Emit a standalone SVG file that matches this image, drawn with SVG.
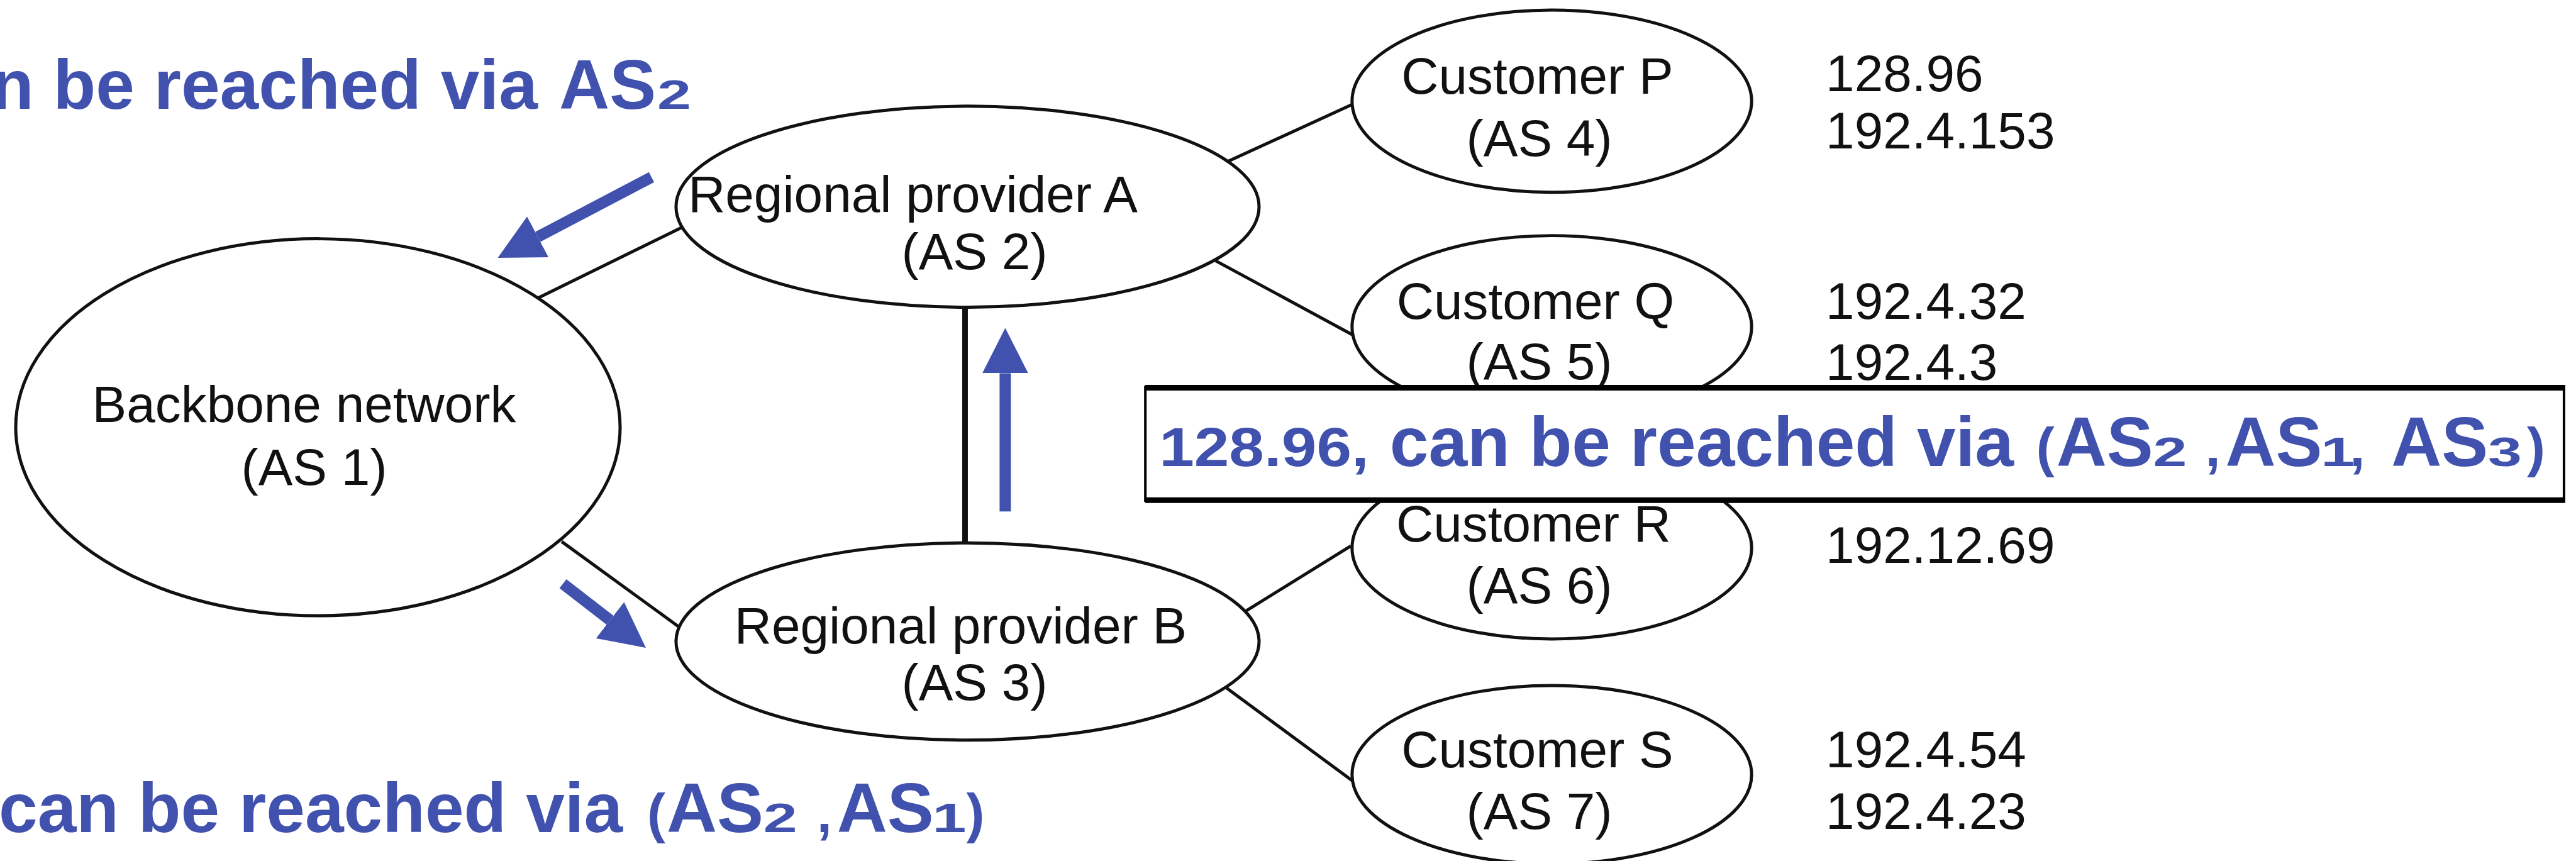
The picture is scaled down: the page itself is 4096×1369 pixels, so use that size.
<svg xmlns="http://www.w3.org/2000/svg" width="4096" height="1369" viewBox="0 0 4096 1369">
<defs>
<style>
.shape{fill:#fff;stroke:#111;stroke-width:5}
.lbl{font-family:"Liberation Sans",Arial,Helvetica,sans-serif;font-size:82px;fill:#111;text-anchor:middle}
.ip{font-family:"Liberation Sans",Arial,Helvetica,sans-serif;font-size:82px;fill:#111}
.conn{stroke:#111;stroke-width:5;fill:none}
.blue{font-family:"Liberation Sans",Arial,Helvetica,sans-serif;font-weight:bold;fill:#4051ae}
.big{font-size:111px}
.mid{font-size:87px}
.sub{font-size:64px}
.arrow{stroke:#4051ae;stroke-width:18;fill:none}
</style>
<marker id="head" viewBox="0 -37 72 74" refX="0" refY="0" markerWidth="72" markerHeight="74" markerUnits="userSpaceOnUse" orient="auto">
<path d="M0,-36.5 L72,0 L0,36.5 Z" fill="#4051ae"/>
</marker>
</defs>
<rect width="4096" height="1369" fill="#fff"/>
<g transform="scale(0.999)">
<g id="connectors">
<line class="conn" x1="857" y1="474" x2="1085" y2="362"/>
<line class="conn" x1="894" y1="862" x2="1081" y2="998"/>
<line class="conn" x1="1954" y1="257" x2="2153" y2="166"/>
<line class="conn" x1="1933" y1="414" x2="2153" y2="533"/>
<line class="conn" x1="1982" y1="973" x2="2150" y2="869"/>
<line class="conn" x1="1951" y1="1094" x2="2153" y2="1243"/>
<line class="conn" x1="1536" y1="489" x2="1536" y2="864" style="stroke-width:9"/>
</g>
<g id="node-backbone">
<ellipse class="shape" cx="506" cy="680" rx="481" ry="300"/>
<text class="lbl" x="484" y="672">Backbone network</text>
<text class="lbl" x="500" y="772">(AS 1)</text>
</g>
<g id="node-regional-a">
<ellipse class="shape" cx="1540" cy="329" rx="464" ry="160"/>
<text class="lbl" x="1453" y="337">Regional provider A</text>
<text class="lbl" x="1551" y="428">(AS 2)</text>
</g>
<g id="node-regional-b">
<ellipse class="shape" cx="1540" cy="1021" rx="464" ry="157"/>
<text class="lbl" x="1529" y="1024">Regional provider B</text>
<text class="lbl" x="1551" y="1114">(AS 3)</text>
</g>
<g id="node-customer-p">
<ellipse class="shape" cx="2470" cy="161" rx="318" ry="145"/>
<text class="lbl" x="2447" y="149">Customer P</text>
<text class="lbl" x="2450" y="248">(AS 4)</text>
</g>
<g id="node-customer-q">
<ellipse class="shape" cx="2470" cy="520" rx="318" ry="145"/>
<text class="lbl" x="2444" y="508">Customer Q</text>
<text class="lbl" x="2450" y="604">(AS 5)</text>
</g>
<g id="node-customer-r">
<ellipse class="shape" cx="2470" cy="872" rx="318" ry="145"/>
<text class="lbl" x="2441" y="862">Customer R</text>
<text class="lbl" x="2450" y="960">(AS 6)</text>
</g>
<g id="node-customer-s">
<ellipse class="shape" cx="2470" cy="1233" rx="318" ry="142"/>
<text class="lbl" x="2447" y="1221">Customer S</text>
<text class="lbl" x="2450" y="1319">(AS 7)</text>
</g>
<g id="prefixes">
<text class="ip" x="2906" y="145">128.96</text>
<text class="ip" x="2906" y="236">192.4.153</text>
<text class="ip" x="2906" y="508">192.4.32</text>
<text class="ip" x="2906" y="605">192.4.3</text>
<text class="ip" x="2906" y="896">192.12.69</text>
<text class="ip" x="2906" y="1221">192.4.54</text>
<text class="ip" x="2906" y="1319">192.4.23</text>
</g>
<g id="annotation-arrows">
<line class="arrow" x1="1037" y1="282" x2="856" y2="377" marker-end="url(#head)"/>
<line class="arrow" x1="896" y1="929" x2="971" y2="987" marker-end="url(#head)"/>
<line class="arrow" x1="1600" y1="814" x2="1600" y2="594" marker-end="url(#head)"/>
</g>
<g id="note-top">
<text class="blue big" x="-14" y="173">n be reached via</text>
<text class="blue big" x="890" y="173">AS</text>
<text class="blue sub" x="1046" y="173" textLength="54" lengthAdjust="spacingAndGlyphs">2</text>
</g>
<g id="note-bottom">
<text class="blue big" x="-2" y="1324">can be reached via</text>
<text class="blue mid" x="1030" y="1324">(</text>
<text class="blue big" x="1061" y="1324">AS</text>
<text class="blue sub" x="1215" y="1324" textLength="54" lengthAdjust="spacingAndGlyphs">2</text>
<text class="blue mid" x="1300" y="1324">,</text>
<text class="blue big" x="1332" y="1324">AS</text>
<text class="blue sub" x="1484" y="1324" textLength="54" lengthAdjust="spacingAndGlyphs">1</text>
<text class="blue mid" x="1538" y="1324">)</text>
</g>
<g id="note-box">
<rect x="1823" y="616" width="2258" height="181" fill="#fff" stroke="#000" stroke-width="4"/>
<line x1="1823" y1="617" x2="4083" y2="617" stroke="#000" stroke-width="9"/>
<line x1="1823" y1="796" x2="4083" y2="796" stroke="#000" stroke-width="9"/>
<text class="blue mid" x="1845" y="742" textLength="334" lengthAdjust="spacingAndGlyphs">128.96,</text>
<text class="blue big" x="2212" y="742">can be reached via</text>
<text class="blue mid" x="3241" y="742">(</text>
<text class="blue big" x="3273" y="742">AS</text>
<text class="blue sub" x="3427" y="742" textLength="54" lengthAdjust="spacingAndGlyphs">2</text>
<text class="blue mid" x="3510" y="742">,</text>
<text class="blue big" x="3542" y="742">AS</text>
<text class="blue sub" x="3694" y="742" textLength="54" lengthAdjust="spacingAndGlyphs">1</text>
<text class="blue mid" x="3740" y="742">,</text>
<text class="blue big" x="3806" y="742">AS</text>
<text class="blue sub" x="3960" y="742" textLength="54" lengthAdjust="spacingAndGlyphs">3</text>
<text class="blue mid" x="4022" y="742">)</text>
</g>
</g>
</svg>
